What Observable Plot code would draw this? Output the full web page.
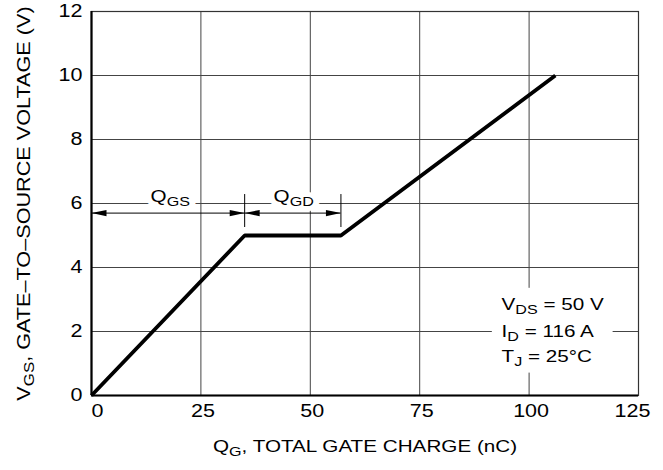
<!DOCTYPE html>
<html>
<head>
<meta charset="utf-8">
<script src="https://cdn.jsdelivr.net/npm/d3@7"></script>
<script src="https://cdn.jsdelivr.net/npm/@observablehq/plot@0.6"></script>
<style>
  html, body { margin: 0; padding: 0; background: #fff; }
</style>
</head>
<body>
<div id="chart"></div>
<script>
// ---- data ----
const gateCharge = [0, 35, 57, 106];          // Q_G (nC)
const gateVoltage = [0, 5, 5, 10];            // V_GS (V)
const xTicks = [0, 25, 50, 75, 100, 125];
const yTicks = [0, 2, 4, 6, 8, 10, 12];
const xTicksMid = [25, 50, 75, 100];

// annotation: Q_GS / Q_GD dimension arrows
const spanStart = [0, 35];
const spanEnd = [35, 57];
const spanLabels = ["Q_{GS}", "Q_{GD}"];
const spanLabelX = [18, 46.2];
const spanLabelY = 6.2;
const arrowY = 5.7;
const kneeTicks = [35, 57];
const kneeTickLow = 5.25;
const kneeTickHigh = 6.28;

// conditions block
const condLines = ["V_{DS} = 50 V", "I_{D} = 116 A", "T_{J} = 25°C"];
const condY = [2.85, 2.0, 1.2];
const condX = 93.7;
const condBox = {x1: 91.6, x2: 119.2, y1: 0.7, y2: 3.35};

const xTitle = "Q_{G}, TOTAL GATE CHARGE (nC)";
const yTitle = "V_{GS}, GATE–TO–SOURCE VOLTAGE (V)";

// ---- tables ----
const curve = gateCharge.map((q, i) => ({q, v: gateVoltage[i]}));
const spans = spanStart.map((s, i) => ({s, e: spanEnd[i], label: spanLabels[i], lx: spanLabelX[i]}));
const heads = spans.flatMap(d => [{x: d.s, rot: 180}, {x: d.e, rot: 0}]);
const cond = condLines.map((t, i) => ({t, y: condY[i]}));

// narrow filled arrowhead, tip at origin pointing right
const arrowHead = {
  draw(ctx) {
    ctx.moveTo(0, 0);
    ctx.lineTo(-15, -3.2);
    ctx.lineTo(-15, 3.2);
    ctx.closePath();
  }
};

const FS = 16.8;
const TICK_FS = 17.5;

const plot = Plot.plot({
  width: 663,
  height: 470,
  marginLeft: 91,
  marginRight: 25,
  marginTop: 11,
  marginBottom: 75,
  style: {fontFamily: "'Liberation Sans', Arial, Helvetica, sans-serif", fontSize: "16px", background: "#fff", color: "#000"},
  x: {domain: [0, 125], ticks: xTicks, label: null},
  y: {domain: [0, 12], ticks: yTicks, label: null},
  marks: [
    Plot.gridX(xTicks, {stroke: "#444", strokeOpacity: 1, strokeWidth: 1}),
    Plot.gridY(yTicks, {stroke: "#444", strokeOpacity: 1, strokeWidth: 1}),
    Plot.frame({stroke: "#333", strokeWidth: 1.2}),
    Plot.ruleX([0], {stroke: "#000", strokeWidth: 2.2}),
    Plot.ruleY([0], {stroke: "#000", strokeWidth: 2.2}),
    Plot.axisX([0], {tickSize: 0, tickPadding: 9, fontSize: TICK_FS, textAnchor: "start", label: null}),
    Plot.axisX(xTicksMid, {tickSize: 0, tickPadding: 9, fontSize: TICK_FS, dx: 2, label: null}),
    Plot.axisX([125], {tickSize: 0, tickPadding: 9, fontSize: TICK_FS, dx: -6, label: null}),
    Plot.axisY(yTicks, {tickSize: 0, tickPadding: 9, fontSize: TICK_FS, label: null}),
    // conditions box (white background)
    Plot.rect([condBox], {x1: "x1", x2: "x2", y1: "y1", y2: "y2", fill: "#fff"}),
    Plot.text(cond, {x: () => condX, y: "y", text: "t", textAnchor: "start", fontSize: FS, fill: "#000"}),
    // span labels: white halo first, then text
    Plot.text(spans, {x: "lx", y: () => spanLabelY, text: "label", fontSize: FS, fill: "#fff", stroke: "#fff", strokeWidth: 10}),
    Plot.text(spans, {x: "lx", y: () => spanLabelY, text: "label", fontSize: FS, fill: "#000"}),
    // knee ticks
    Plot.ruleX(kneeTicks, {y1: kneeTickLow, y2: kneeTickHigh, stroke: "#000", strokeWidth: 1}),
    // arrow shafts
    Plot.ruleY(spans, {x1: "s", x2: "e", y: () => arrowY, stroke: "#000", strokeWidth: 1}),
    Plot.dot(heads, {x: "x", y: () => arrowY, rotate: "rot", symbol: arrowHead, fill: "#000", stroke: "none", r: 3}),
    // curve
    Plot.line(curve, {x: "q", y: "v", stroke: "#000", strokeWidth: 3.8, strokeLinejoin: "miter", strokeLinecap: "butt"}),
    // axis titles
    Plot.text([xTitle], {frameAnchor: "bottom", textAnchor: "middle", dy: 56, text: d => d, fontSize: FS, fill: "#000"}),
    Plot.text([yTitle], {frameAnchor: "left", textAnchor: "middle", dx: -67.5, rotate: -90, text: d => d, fontSize: 17.6, fill: "#000"})
  ]
});

// subscripts: convert "_{..}" into lowered, smaller tspans
const NS = "http://www.w3.org/2000/svg";
plot.querySelectorAll("text").forEach(t => {
  const s = t.textContent;
  if (!s.includes("_{")) return;
  while (t.firstChild) t.removeChild(t.firstChild);
  const parts = s.split(/(_\{[^}]*\})/);
  let shifted = false;
  for (const p of parts) {
    if (!p) continue;
    const ts = document.createElementNS(NS, "tspan");
    if (p.startsWith("_{")) {
      ts.textContent = p.slice(2, -1);
      ts.setAttribute("font-size", "0.78em");
      ts.setAttribute("dy", "4");
      shifted = true;
    } else {
      ts.textContent = p;
      if (shifted) { ts.setAttribute("dy", "-4"); shifted = false; }
    }
    t.appendChild(ts);
  }
});

// the reference lettering is wider than the regular face: widen each text along its own baseline
const SX = 1.23;
plot.querySelectorAll("text").forEach(t => {
  const tr = t.getAttribute("transform") || "";
  if (/^\s*translate\(/.test(tr)) {
    t.setAttribute("transform", `${tr} scale(${SX},1)`);
  } else {
    const x = +t.getAttribute("x") || 0, y = +t.getAttribute("y") || 0;
    t.setAttribute("transform", `${tr ? tr + " " : ""}translate(${x},${y}) scale(${SX},1) translate(${-x},${-y})`);
  }
});

document.getElementById("chart").appendChild(plot);
</script>
</body>
</html>
